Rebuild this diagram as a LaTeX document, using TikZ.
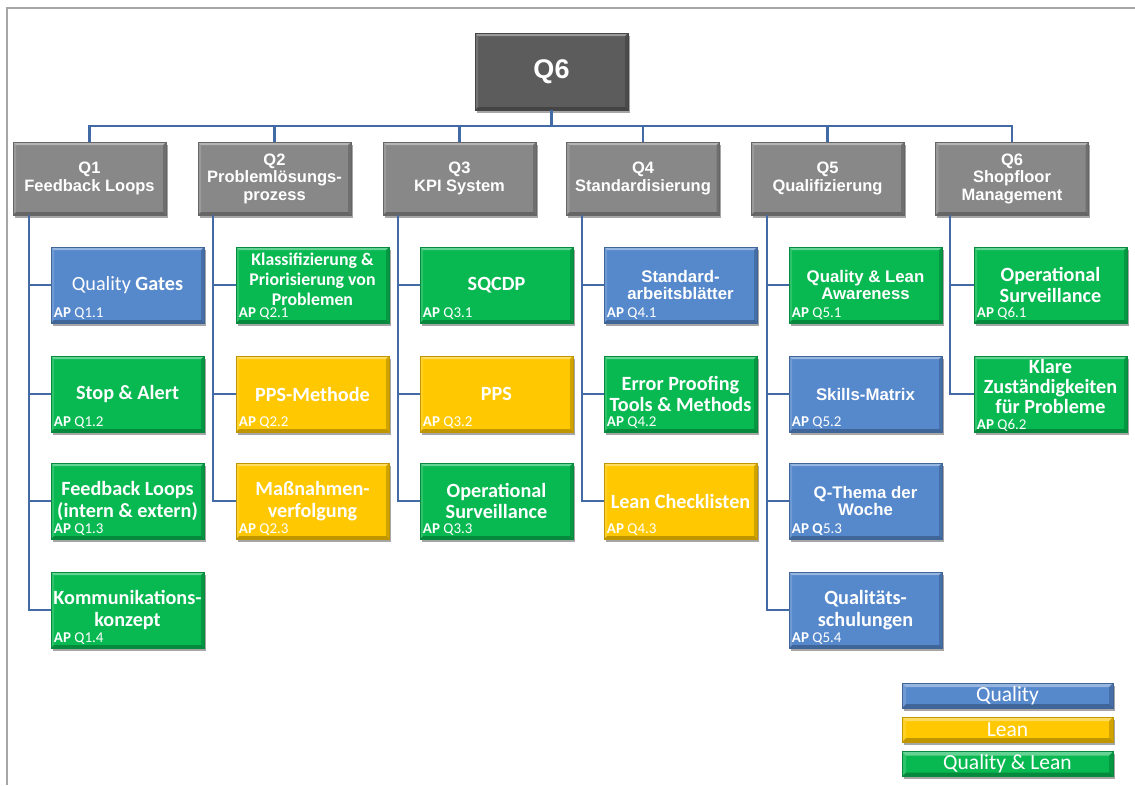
\documentclass[tikz,border=0pt]{standalone}
\usepackage{fontspec}
\usetikzlibrary{shadows}
\newfontfamily\arialfont{Liberation Sans}
\newfontfamily\calfont{Carlito}

\definecolor{topgray}{RGB}{92,92,92}
\definecolor{hdrgray}{RGB}{136,136,136}
\definecolor{qblue}{RGB}{86,136,204}
\definecolor{qgreen}{RGB}{8,185,82}
\definecolor{qyellow}{RGB}{255,200,0}
\definecolor{connblue}{RGB}{66,106,164}
\definecolor{framegray}{RGB}{166,166,166}

\tikzset{
  bevel/.style={path picture={
    \path (path picture bounding box.north west) coordinate (bNW)
          (path picture bounding box.north east) coordinate (bNE)
          (path picture bounding box.south west) coordinate (bSW)
          (path picture bounding box.south east) coordinate (bSE);
    \fill[white,opacity=.38] (bNW) -- (bNE) -- ([shift={(-#1,-#1)}]bNE) -- ([shift={(#1,-#1)}]bNW) -- cycle;
    \fill[white,opacity=.15] (bNW) -- ([shift={(#1,-#1)}]bNW) -- ([shift={(#1,#1)}]bSW) -- (bSW) -- cycle;
    \fill[black,opacity=.18] (bNE) -- ([shift={(-#1,-#1)}]bNE) -- ([shift={(-#1,#1)}]bSE) -- (bSE) -- cycle;
    \fill[black,opacity=.25] (bSW) -- ([shift={(#1,#1)}]bSW) -- ([shift={(-#1,#1)}]bSE) -- (bSE) -- cycle;
  }},
  anybox/.style={draw=#1!75!black, fill=#1, line width=0.5pt, inner sep=1pt,
    align=center, text=white, bevel=3pt,
    drop shadow={shadow xshift=1.5pt, shadow yshift=-2.5pt, opacity=.35, fill=black}},
  topbox/.style={anybox=topgray, minimum width=153pt, minimum height=77pt,
    font=\arialfont\bfseries\fontsize{27}{30}\selectfont},
  hdrbox/.style={anybox=hdrgray, minimum width=153pt, minimum height=73pt,
    font=\arialfont\bfseries\fontsize{16.5}{17.5}\selectfont},
  apbox/.style={anybox=#1, minimum width=153pt, minimum height=76pt,
    font=\calfont\bfseries\fontsize{20.2}{21.5}\selectfont},
  arialtext/.style={font=\arialfont\bfseries\fontsize{16.8}{17.8}\selectfont},
  boxtext/.style={anchor=center, inner sep=0pt, align=center, text=white},
  aplabel/.style={anchor=base west, inner sep=0pt, text=white,
    font=\calfont\fontsize{15}{16}\selectfont},
  legbox/.style={anybox=#1, minimum width=211pt, minimum height=25pt, inner sep=0pt,
    bevel=4pt, font=\calfont\fontsize{21.5}{22}\selectfont},
  conn/.style={draw=connblue, line width=2.6pt, line join=miter},
  frameline/.style={draw=framegray, line width=1.6pt},
}

\newcommand{\aptag}[2]{\node[aplabel] (ap#1) at ([shift={(3pt,6pt)}]#1.south west) {\textbf{AP} #2};}

\begin{document}
\begin{tikzpicture}[x=1pt,y=-1pt]
\useasboundingbox (0,0) rectangle (1135,785);

% outer frame (left and top edges)
\coordinate (frTL) at (7,8);
\coordinate (frTR) at (1135,8);
\coordinate (frBL) at (7,785);
\draw[frameline] (frBL) -- (frTL) -- (frTR);

% top level
\node[topbox] (top) at (551.5,71.5) {Q6};

% second level headers
\node[hdrbox] (h1) at (89.5,178.5)  {Q1\\Feedback Loops};
\node[hdrbox] (h2) at (274.5,178.5) {Q2\\Problemlösungs-\\prozess};
\node[hdrbox] (h3) at (459.5,178.5) {Q3\\KPI System};
\node[hdrbox] (h4) at (643,178.5)   {Q4\\Standardisierung};
\node[hdrbox] (h5) at (827.5,178.5) {Q5\\Qualifizierung};
\node[hdrbox] (h6) at (1012,178.5)  {Q6\\Shopfloor\\Management};

% work packages, column Q1
\node[apbox=qblue]  (c11) at (127.5,285) {\mdseries Quality \textbf{Gates}};
\node[apbox=qgreen] (c12) at (127.5,394) {Stop \& Alert};
\node[apbox=qgreen] (c13) at (127.5,501) {Feedback Loops\\(intern \& extern)};
\node[apbox=qgreen] (c14) at (127.5,610) {Kommunikations-\\konzept};
% column Q2
\node[apbox=qgreen] (c21) at (312.5,285) {};
\node[boxtext, font=\calfont\bfseries\fontsize{17.8}{20}\selectfont] (t21) at (312.5,279)
      {Klassifizierung \&\\Priorisierung von\\Problemen};
\node[apbox=qyellow] (c22) at (312.5,394) {PPS-Methode};
\node[apbox=qyellow] (c23) at (312.5,501) {Maßnahmen-\\verfolgung};
% column Q3
\node[apbox=qgreen]  (c31) at (496.5,285) {SQCDP};
\node[apbox=qyellow] (c32) at (496.5,394) {PPS};
\node[apbox=qgreen]  (c33) at (496.5,501) {Operational\\Surveillance};
% column Q4
\node[apbox=qblue, arialtext]  (c41) at (680.5,285) {Standard-\\arbeitsblätter};
\node[apbox=qgreen]  (c42) at (680.5,394) {Error Proofing\\Tools \& Methods};
\node[apbox=qyellow] (c43) at (680.5,501) {Lean Checklisten};
% column Q5
\node[apbox=qgreen, arialtext] (c51) at (865.5,285) {Quality \& Lean\\Awareness};
\node[apbox=qblue, arialtext]  (c52) at (865.5,394) {Skills-Matrix};
\node[apbox=qblue, arialtext]  (c53) at (865.5,501) {Q-Thema der\\Woche};
\node[apbox=qblue]  (c54) at (865.5,610) {Qualitäts-\\schulungen};
% column Q6
\node[apbox=qgreen] (c61) at (1050.5,285) {Operational\\Surveillance};
\node[apbox=qgreen] (c62) at (1050.5,394) {};
\node[boxtext, font=\calfont\bfseries\fontsize{20.2}{20}\selectfont] (t62) at (1050.5,386.5)
      {Klare\\Zuständigkeiten\\für Probleme};

% work package tags
\aptag{c11}{Q1.1}\aptag{c12}{Q1.2}\aptag{c13}{Q1.3}\aptag{c14}{Q1.4}
\aptag{c21}{Q2.1}\aptag{c22}{Q2.2}\aptag{c23}{Q2.3}
\aptag{c31}{Q3.1}\aptag{c32}{Q3.2}\aptag{c33}{Q3.3}
\aptag{c41}{Q4.1}\aptag{c42}{Q4.2}\aptag{c43}{Q4.3}
\aptag{c51}{Q5.1}\aptag{c52}{Q5.2}\aptag{c53}{\textbf{Q}5.3}\aptag{c54}{Q5.4}
\aptag{c61}{Q6.1}
\node[aplabel] (apc62) at ([shift={(3pt,3pt)}]c62.south west) {\textbf{AP} Q6.2};

% tree connectors: top level to headers
\coordinate (bar) at (0,126);
\draw[conn] (top.south) -- (top.south |- bar);
\draw[conn] (h1.north) -- (h1.north |- bar) -- (h6.north |- bar) -- (h6.north);
\foreach \h in {h2,h3,h4,h5} \draw[conn] (\h.north) -- (\h.north |- bar);

% spines from headers to work packages
\coordinate (s1) at ([xshift=16pt]h1.south west);
\coordinate (s2) at ([xshift=15pt]h2.south west);
\coordinate (s3) at ([xshift=15pt]h3.south west);
\coordinate (s4) at ([xshift=16pt]h4.south west);
\coordinate (s5) at ([xshift=16pt]h5.south west);
\coordinate (s6) at ([xshift=15pt]h6.south west);
\draw[conn, line width=2.4pt] (s1) |- (c14.west);
\draw[conn, line width=2.4pt] (s2) |- (c23.west);
\draw[conn, line width=2.4pt] (s3) |- (c33.west);
\draw[conn, line width=2.4pt] (s4) |- (c43.west);
\draw[conn, line width=2.4pt] (s5) |- (c54.west);
\draw[conn, line width=2.4pt] (s6) |- (c62.west);
\foreach \s/\c in {s1/c11,s1/c12,s1/c13,s2/c21,s2/c22,s3/c31,s3/c32,s4/c41,s4/c42,s5/c51,s5/c52,s5/c53,s6/c61}
  \draw[conn, line width=2.4pt] (\s |- \c.west) -- (\c.west);

% legend
\node[legbox=qblue]   (legQ)  at (1007.5,695.5) {Quality};
\node[legbox=qyellow] (legL)  at (1007.5,729.5) {Lean};
\node[legbox=qgreen]  (legQL) at (1007.5,764)   {Quality \& Lean};
\end{tikzpicture}
\end{document}
